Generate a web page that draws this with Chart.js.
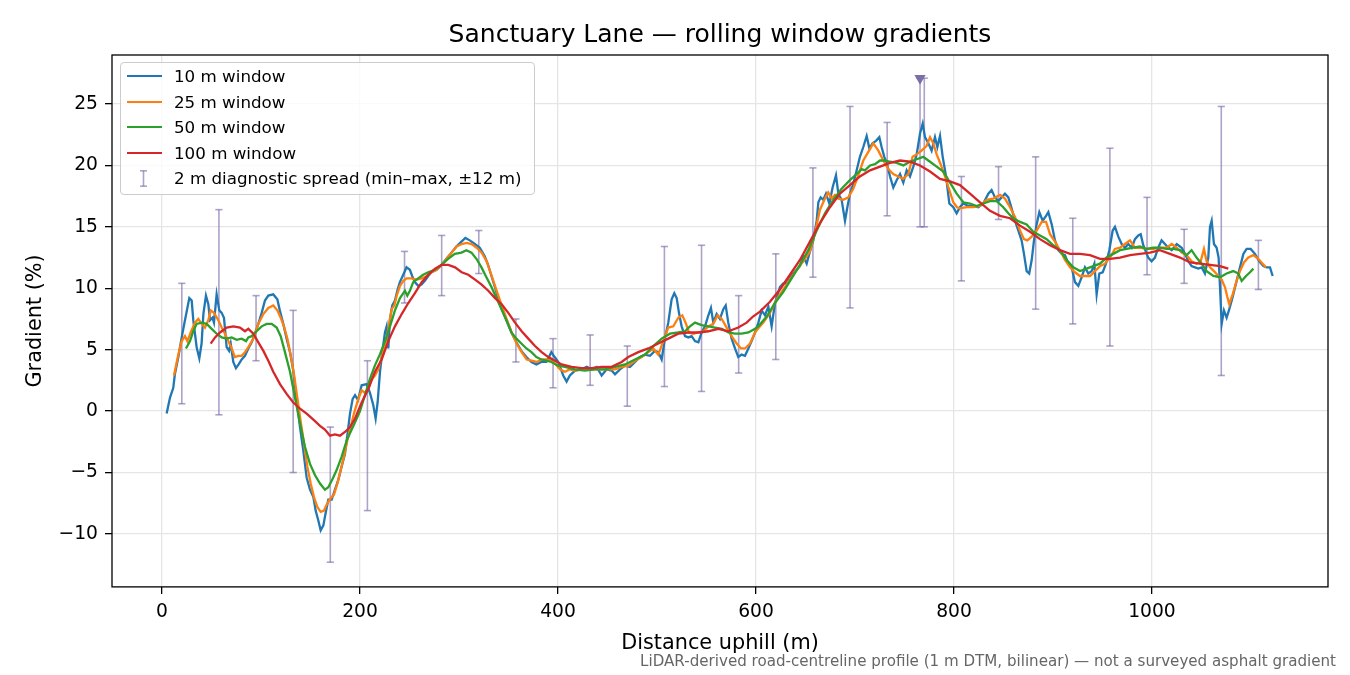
<!DOCTYPE html>
<html>
<head>
<meta charset="utf-8">
<script src="https://cdn.jsdelivr.net/npm/chart.js@4.4.1/dist/chart.umd.min.js"></script>
<style>
html,body{margin:0;padding:0;background:#fff;}
#wrap{position:relative;width:1350px;height:675px;font-family:"DejaVu Sans",sans-serif;}
#legend{position:absolute;left:120px;top:62px;width:413px;height:131px;border:1px solid #cccccc;border-radius:4px;background:rgba(255,255,255,0.8);}
.lg-line{position:absolute;left:6px;width:35px;height:2.4px;}
.lg-text{position:absolute;left:53px;height:20px;line-height:20px;font-size:16.7px;color:#000;white-space:nowrap;}
.lg-err{position:absolute;left:19px;width:7px;height:17px;}
</style>
</head>
<body>
<div id="wrap">
<canvas id="c" width="1350" height="675"></canvas>
<div id="legend"></div>
</div>
<script>
// ---------- data ----------
const chartTitle = 'Sanctuary Lane \u2014 rolling window gradients';
const xTitle = 'Distance uphill (m)';
const yTitle = 'Gradient (%)';
const caption = 'LiDAR-derived road-centreline profile (1 m DTM, bilinear) \u2014 not a surveyed asphalt gradient';
const xTicks = [0, 200, 400, 600, 800, 1000];
const yTicks = [-10, -5, 0, 5, 10, 15, 20, 25];

const seriesLabels = ['10 m window', '25 m window', '50 m window', '100 m window'];
const errLabel = '2 m diagnostic spread (min\u2013max, \u00b112 m)';

// [distance m, gradient %]
const win10 = [[4.7,-0.2],[8.1,1.1],[11.4,1.9],[13,3.0],[16.5,4.4],[19.9,6.0],[23.2,7.4],[27.6,9.2],[30,9.0],[31.6,7.4],[35,5.2],[37.7,4.3],[40,5.5],[41.8,7.9],[44.4,9.4],[46.8,8.7],[48.5,7.4],[51,7.6],[52.5,7.2],[55.2,9.5],[57.9,8.2],[60.3,8.0],[62.6,7.6],[65.3,5.2],[67.7,4.9],[69.4,5.5],[72,4.0],[74.7,3.5],[77.4,3.8],[80.5,4.2],[83.8,4.5],[87.2,5.1],[90.6,5.6],[93.9,6.3],[97.3,7.1],[100.7,8.0],[104,9.0],[107.4,9.4],[112.4,9.5],[116.5,9.1],[119,8.2],[122.5,7.1],[125.9,5.9],[129.3,4.8],[132.6,3.3],[136,0.9],[139.4,-1.3],[142.7,-3.2],[146.1,-5.4],[149.5,-6.4],[152.9,-7.0],[155.2,-8.1],[157.9,-8.9],[160.3,-9.7],[163,-9.3],[165.3,-8.3],[168,-7.2],[171.4,-7.2],[174.7,-6.4],[178.1,-5.6],[181.5,-4.5],[184.8,-3.5],[187.5,-1.8],[189.9,-0.2],[192.6,1.0],[195,1.3],[198,0.9],[201.7,2.1],[206.7,2.2],[210,1.5],[213.4,0.5],[215.8,-0.6],[217.8,0.7],[220.2,3.2],[222.5,4.8],[225.2,6.4],[226.9,6.9],[228.6,5.1],[230.3,7.5],[232.6,8.6],[235.3,9.0],[238,9.9],[240.3,10.5],[243.7,11.1],[247,11.7],[250.4,11.5],[252.7,11.0],[255.4,10.5],[258.8,10.2],[262.1,10.3],[265.5,10.6],[268.9,11.0],[272.2,11.3],[277.3,11.5],[282.3,11.9],[287.3,12.4],[292.4,12.9],[297.4,13.4],[302.5,13.8],[306.5,14.1],[310.9,13.9],[316,13.6],[321,13.3],[326,12.6],[329.4,11.9],[332.8,11.0],[336.2,10.1],[339.5,9.2],[342.9,8.4],[347.9,7.4],[353,6.4],[358,5.6],[363,4.9],[368.1,4.4],[373.2,4.0],[378.2,3.8],[383.2,4.0],[388.3,4.0],[393.3,4.8],[396.6,4.4],[400.3,4.0],[405.3,2.9],[408.7,2.4],[412,2.9],[417.2,3.3],[423.9,3.4],[429,3.6],[434,3.4],[439.1,3.6],[444.1,2.9],[449.2,3.4],[454.2,3.3],[457.6,3.0],[462.6,3.4],[467.7,3.7],[472.7,3.6],[477.8,4.0],[482.8,4.4],[487.9,4.6],[492.9,4.5],[497.9,4.9],[501.3,4.8],[504.7,4.2],[508,5.9],[511.4,7.2],[514.8,9.1],[517.5,9.6],[519.9,9.2],[522.2,8.0],[524.9,6.9],[528.3,6.1],[531.6,6.0],[535,6.1],[538.4,5.7],[541.8,5.6],[545.1,6.4],[548.5,6.9],[551.9,7.8],[554.5,8.4],[556.9,7.2],[560.3,7.9],[563.6,7.5],[567,8.3],[569.4,8.6],[572,7.2],[575.4,5.9],[578.8,5.1],[582.1,4.4],[585.5,4.6],[588.9,4.5],[592.3,5.1],[595.6,5.7],[599,6.4],[602.4,7.2],[605.7,8.2],[609.1,7.8],[612.5,8.5],[615.8,6.9],[619.2,8.8],[624.2,10.1],[627.6,10.4],[631,10.4],[634.3,10.8],[637.7,11.2],[641.1,11.5],[644.4,11.8],[647.8,12.6],[651.2,12.0],[654.5,13.0],[657.9,13.9],[661.3,15.5],[663,17.0],[665.3,17.4],[668,17.2],[670.7,17.7],[674.1,16.9],[677.4,18.2],[680.8,19.2],[683.2,17.7],[686.5,17.2],[689.9,15.5],[692.3,16.6],[694.9,17.7],[698.3,18.5],[701.7,19.6],[705,20.7],[708.4,21.5],[711.8,22.4],[714.5,21.4],[717.8,21.8],[721.2,22.0],[724.6,22.3],[726.9,21.5],[729.6,20.7],[732.7,20.0],[735.4,19.1],[738.7,18.2],[742.1,18.8],[745.5,19.3],[748.8,18.6],[752.2,19.6],[755.6,19.1],[758.9,19.9],[762.3,20.9],[765.7,22.6],[768.4,23.4],[770.7,22.3],[774.1,21.8],[777.4,21.2],[780.8,22.3],[783.2,21.5],[785.9,22.4],[788.6,20.7],[792,19.1],[795.3,16.9],[799.3,16.6],[802.7,16.1],[806,16.6],[809.4,16.9],[814.4,16.7],[819.5,16.7],[824.6,16.6],[829.6,16.9],[834.7,17.7],[838,18.0],[841.4,17.4],[844.8,17.1],[848.1,17.4],[851.5,17.7],[854.9,17.4],[858.2,16.5],[861.6,15.5],[865,14.7],[868.3,13.9],[870.7,12.8],[873.4,11.4],[876,11.2],[878.5,12.3],[880.8,13.9],[883.5,15.2],[886.2,16.2],[889.6,15.5],[893,15.9],[895.3,16.2],[898.7,15.2],[902,13.9],[905.4,13.1],[908.8,12.8],[912.1,12.7],[915.5,12.0],[918.9,11.7],[922.2,10.5],[925.6,10.2],[929,10.9],[932.3,11.7],[935.7,11.2],[939.1,11.4],[941.8,12.0],[944.1,9.5],[946.8,11.2],[950.2,11.3],[953.5,12.0],[956.9,13.1],[960.3,14.7],[962.6,15.0],[966,14.2],[969.4,13.6],[972.7,13.3],[976.1,13.6],[979.5,13.3],[982.8,14.0],[986.2,14.3],[988.6,14.4],[991.2,13.5],[996.2,12.5],[999.6,12.2],[1003,12.5],[1006.3,13.3],[1009.7,13.9],[1013.1,13.6],[1016.5,13.3],[1019.9,13.1],[1025,13.6],[1030,13.3],[1033.3,12.8],[1036.7,12.2],[1040,11.8],[1043.4,11.7],[1046.8,11.6],[1050.2,11.7],[1053.5,11.2],[1056.9,12.5],[1058.6,15.0],[1060.3,15.5],[1062.6,13.6],[1065.3,13.3],[1067.3,12.5],[1068.7,10.1],[1070.4,7.1],[1072.7,8.2],[1075.4,7.6],[1078.1,8.3],[1081.5,9.3],[1085.5,10.6],[1088.9,11.7],[1092.3,12.8],[1095.6,13.2],[1099.7,13.2],[1104,12.8],[1108.4,12.2],[1112.5,11.8],[1115.8,11.7],[1119.2,11.7],[1121.9,11.0]];

const win25 = [[12.1,2.9],[16.5,4.6],[19.9,5.7],[23.2,6.1],[25.6,5.7],[29,6.4],[33.3,7.2],[36.7,7.5],[40,7.1],[43.4,6.8],[46.8,7.4],[49.2,8.2],[52.5,8.0],[56.9,7.4],[60.3,6.8],[63.6,6.3],[67,5.7],[70.4,5.1],[73.7,4.4],[77.1,4.5],[80.5,4.5],[83.8,4.8],[87.2,5.2],[92.3,5.9],[97.3,7.1],[102.4,7.9],[107.4,8.4],[112.4,8.6],[116.5,8.2],[119.9,7.6],[123.2,6.9],[126.6,5.9],[129.9,4.6],[133.3,3.0],[136.7,1.1],[140,-0.8],[143.4,-2.6],[146.8,-4.5],[150.2,-5.9],[153.5,-7.0],[156.9,-7.8],[160.3,-8.2],[163.6,-8.1],[167,-7.5],[170.4,-7.1],[173.7,-6.8],[177.1,-5.9],[180.5,-4.8],[183.8,-3.7],[187.2,-2.4],[190.6,-1.3],[193.9,-0.2],[198.3,1.0],[201.7,1.7],[205,1.5],[208.4,1.8],[211.8,2.6],[215.1,2.9],[218.5,3.4],[221.9,4.4],[225.3,5.3],[228.6,6.7],[232,8.3],[234.7,8.6],[237.1,9.4],[240.4,10.2],[243.8,10.6],[247.1,10.8],[252.2,10.8],[257.2,10.7],[262.3,10.8],[267.3,11.0],[272.4,11.3],[277.4,11.5],[282.5,11.9],[287.5,12.4],[292.6,12.9],[297.6,13.4],[302.7,13.6],[307.7,13.7],[312.8,13.6],[317.8,13.3],[322.9,12.9],[327.9,12.2],[333,11.0],[338,9.8],[343.1,8.6],[348.1,7.5],[353.2,6.4],[358.2,5.5],[363.3,4.8],[368.4,4.2],[373.4,4.1],[378.5,4.0],[383.5,4.2],[388.6,4.2],[393.6,4.1],[398,3.8],[402,3.4],[407,3.2],[412,3.4],[417,3.3],[424,3.4],[430.6,3.4],[437.4,3.4],[444,3.4],[450.8,3.4],[457.6,3.4],[464.3,3.6],[471,3.7],[477.8,4.1],[484.5,4.4],[491.3,4.8],[496.3,5.1],[501.3,4.6],[506.4,5.7],[511.4,6.8],[516.5,6.9],[521.5,7.6],[525.6,7.8],[528.9,7.2],[532.3,6.4],[536.7,6.3],[541.8,6.4],[546.8,6.5],[551.9,6.9],[556.9,7.1],[561.3,7.8],[565.4,7.5],[570.4,6.8],[575.4,6.1],[580.5,5.5],[584.9,5.1],[588.9,5.1],[594,5.5],[599,6.4],[603,6.8],[607.4,7.2],[614.1,8.0],[620.9,9.1],[627.6,9.9],[634.3,10.7],[641.1,11.5],[647.8,12.2],[654.5,13.0],[659.6,14.5],[664.6,16.4],[669.7,17.3],[673,17.8],[676.4,17.3],[679.8,17.6],[683.2,17.3],[688.2,17.2],[693.3,17.4],[698.3,18.1],[703.4,19.2],[708.4,20.4],[713.5,21.1],[718.5,21.8],[723.6,21.2],[728.6,20.4],[733.7,19.7],[738.7,19.3],[743.8,19.1],[748.8,18.9],[753.9,19.3],[758.2,20.7],[762.3,20.9],[767.3,21.2],[772.4,21.6],[775.8,22.3],[779.1,21.8],[782.5,20.9],[786.5,20.1],[790.9,19.1],[795.3,18.0],[799.3,17.0],[803,16.6],[806,16.5],[812.8,16.6],[819.5,16.6],[826.3,16.7],[833,17.2],[839.7,17.3],[846.5,17.6],[851.5,17.3],[856.6,16.6],[861.6,15.8],[866.7,14.7],[870.7,14.0],[874.1,13.9],[878.5,14.2],[883.5,14.7],[888.6,15.4],[893,15.4],[897,14.4],[902,13.8],[907.1,13.1],[912.1,12.3],[917.2,11.7],[922.2,11.3],[927.3,11.0],[932.3,11.0],[937.4,11.0],[942.4,11.4],[947.5,11.8],[952.5,12.0],[957.6,12.5],[962.6,13.2],[967.7,13.3],[972.7,13.6],[977.8,13.9],[982.8,13.3],[987.9,13.3],[994.6,13.2],[1001.3,13.2],[1008,13.3],[1014.8,13.3],[1019.9,13.6],[1025,13.3],[1030,12.9],[1035,12.7],[1040,12.2],[1045,12.0],[1049.2,12.2],[1052.5,13.2],[1055.2,12.2],[1058.6,11.7],[1062.6,11.4],[1067,11.0],[1070.4,10.7],[1073.7,10.1],[1076.1,9.3],[1078.1,8.7],[1081.5,9.5],[1085.5,10.6],[1088.9,11.4],[1092.9,12.1],[1097.3,12.5],[1102.4,12.7],[1107.4,12.4],[1111.8,12.0],[1115.2,11.7]];

const win50 = [[24.2,5.1],[28.3,5.7],[31.6,6.5],[35,7.1],[40,7.2],[45.1,7.1],[50.2,6.7],[55.2,6.3],[60.3,6.0],[65.3,5.9],[70.4,6.0],[75.4,5.8],[80.5,5.9],[84.9,5.7],[87.2,6.0],[90.6,6.1],[95.6,6.5],[100.7,6.9],[105.7,7.1],[110.8,7.1],[115.8,6.8],[119.9,6.1],[124.2,4.8],[129.3,3.2],[134.3,1.1],[139.4,-1.0],[144.4,-2.9],[149.5,-4.3],[154.5,-5.2],[159.6,-5.9],[164.6,-6.4],[168,-6.2],[172.4,-5.5],[176.4,-4.8],[181.5,-3.7],[186.5,-2.4],[191.6,-1.5],[195,-0.9],[200,0.0],[205,1.3],[210,2.6],[215,3.7],[220,4.6],[225.3,5.7],[230.3,6.9],[235.3,8.2],[240.4,9.2],[245.4,9.8],[247.8,9.4],[250.4,9.8],[253.8,10.5],[258.8,10.8],[263.8,11.1],[268.9,11.3],[275.6,11.5],[282.3,11.9],[289,12.4],[295.8,12.8],[302.5,12.9],[307.5,13.1],[312.6,12.9],[317.6,12.4],[322.7,11.7],[327.7,10.9],[332.8,10.1],[337.8,9.2],[342.9,8.3],[347.9,7.4],[353,6.4],[358,5.9],[363,5.5],[368.1,5.1],[373.2,4.8],[378.2,4.4],[383.2,4.2],[388.3,4.1],[393.3,4.0],[400,3.7],[407,3.6],[417,3.4],[427,3.3],[437.4,3.4],[447.5,3.4],[457.6,3.6],[467.7,3.8],[477.8,4.2],[487.9,4.6],[496.3,5.3],[504.7,5.9],[513.1,6.3],[521.5,6.4],[528.3,6.5],[533.3,6.9],[538.4,7.2],[545.1,7.0],[551.9,6.9],[558.6,6.8],[565.4,6.7],[572.1,6.4],[578.8,6.3],[585.5,6.3],[592.3,6.4],[599,6.7],[602.4,6.9],[610.8,7.7],[619.2,8.8],[627.6,9.7],[636,10.8],[644.4,11.9],[652.9,13.1],[661.3,14.7],[669.7,16.1],[678.1,17.2],[686.5,18.1],[694.9,18.8],[701.7,19.3],[706.7,19.7],[710.1,19.6],[715.2,20.0],[720.2,20.1],[725.3,20.4],[730.3,20.4],[735.4,20.3],[742.1,20.2],[748.8,20.0],[755.6,20.3],[762.3,20.5],[769,20.7],[775.8,20.3],[782.5,19.9],[789.2,19.5],[796,18.6],[802.7,17.7],[809.4,17.0],[816.2,16.9],[822.9,16.7],[829.6,16.9],[836.4,17.1],[843.1,17.1],[849.8,16.6],[854.9,16.1],[859.9,15.7],[866.7,15.4],[873.4,15.2],[880.1,14.6],[886.9,14.3],[893.6,14.0],[900.3,13.5],[907.1,13.1],[913.8,12.3],[920.5,11.7],[927.3,11.4],[934,11.6],[940.7,11.8],[947.5,12.0],[954.2,12.5],[960.9,12.8],[967.7,13.1],[974.4,13.2],[981.1,13.3],[987.9,13.4],[994.6,13.2],[1001.3,13.3],[1008,13.3],[1014.8,13.2],[1021.5,13.2],[1028.3,13.1],[1035,12.7],[1040,13.1],[1045,12.5],[1050.2,12.0],[1055.2,11.4],[1062,11.0],[1068.7,10.9],[1075.4,11.2],[1082.1,11.4],[1087.2,11.2],[1090.6,10.6],[1095,11.0],[1099,11.3],[1102.4,11.6]];

const win100 = [[49.2,5.5],[53.6,6.0],[58.6,6.4],[65.3,6.8],[72,6.9],[78.8,6.8],[83.8,6.5],[87.2,6.7],[92.3,6.3],[97.3,5.6],[102.4,4.9],[107.4,4.1],[112.4,3.2],[119.2,2.2],[125.9,1.4],[132.6,0.7],[139.4,0.2],[146.1,-0.2],[152.9,-0.7],[159.6,-1.2],[164.6,-1.5],[169.7,-2.0],[174.7,-1.9],[179.8,-2.0],[184.8,-1.7],[189.9,-1.3],[195,-0.6],[201.7,0.7],[208.4,1.8],[215.1,3.2],[221.9,4.2],[228.6,5.7],[235.3,6.9],[242.1,7.9],[248.8,8.8],[255.5,9.6],[262.3,10.5],[269,11.1],[275.8,11.6],[282.5,11.9],[289.2,11.9],[296,11.7],[302.7,11.3],[309.4,11.1],[316.2,10.7],[322.9,10.3],[329.6,9.8],[336.4,9.2],[343.1,8.7],[349.8,8.0],[356.6,7.2],[363.3,6.5],[370,5.9],[376.8,5.3],[383.5,4.8],[390.2,4.4],[397,4.1],[403.7,3.8],[413.8,3.6],[423.9,3.5],[434,3.5],[444.1,3.6],[454.2,3.6],[464.3,4.0],[471,4.4],[481.1,4.8],[491.3,5.1],[501.3,5.5],[511.4,5.9],[521.5,6.3],[531.6,6.4],[541.8,6.4],[551.9,6.5],[562,6.7],[572.1,6.5],[582.1,6.8],[590.6,7.2],[597,7.7],[604,8.1],[614.1,8.9],[624.2,9.9],[634.3,11.1],[644.4,12.3],[654.5,13.8],[664.6,15.3],[674.7,16.6],[684.8,17.7],[694.9,18.4],[705,19.1],[715.2,19.6],[725.3,19.9],[735.4,20.2],[745.5,20.4],[755.6,20.3],[765.7,20.0],[775.8,19.5],[785.9,18.9],[796,18.7],[806,18.4],[816.2,17.7],[826.3,17.0],[836.4,16.3],[846.5,15.9],[856.6,15.7],[866.7,15.1],[876.8,14.6],[886.9,14.0],[897,13.5],[907.1,13.1],[917.2,12.8],[927.3,12.8],[937.4,12.7],[947.5,12.4],[957.6,12.4],[967.7,12.5],[977.8,12.7],[987.9,12.8],[998,12.9],[1008,13.1],[1018.2,12.8],[1028.3,12.5],[1038.4,12.1],[1048.5,12.0],[1058.6,11.9],[1068.7,11.8],[1077.1,11.6]];

// 2 m diagnostic spread: position, min, max
const errDist = [20,57.5,95,132.5,170,207.5,245,282.5,320,357.5,395,432.5,470,507.5,545,582.5,620,657.5,695,732.5,765.7,770,807.5,845,882.5,920,957.5,995,1032.5,1070,1107.5];
const errMin  = [0.6,-0.3,4.1,-5.0,-12.3,-8.1,8.8,9.4,11.2,4.0,1.9,2.1,0.4,2.0,1.6,3.1,4.2,10.9,8.4,15.9,15.0,15.0,10.6,15.6,8.3,7.1,5.3,11.1,10.4,2.9,9.9];
const errMax  = [10.4,16.4,9.4,8.2,-1.3,4.1,13.0,14.3,14.7,7.5,5.9,6.2,5.3,13.4,13.5,9.4,12.8,19.8,24.8,23.5,27.1,27.1,19.1,19.9,20.7,15.7,21.4,17.4,14.8,24.8,13.9];
// steepest 2 m marker
const steepDist = [765.7];
const steepGrad = [27.1];

// ---------- styling ----------
const colors = ['#1f77b4', '#ff7f0e', '#2ca02c', '#d62728'];
const errColor = 'rgba(118,100,162,0.6)';
const steepColor = '#7d6ea6';
const FONT = "'DejaVu Sans', sans-serif";
Chart.defaults.font.family = FONT;
Chart.defaults.color = '#000';

const toXY = arr => arr.map(p => ({x: p[0], y: p[1]}));
const seriesData = [win10, win25, win50, win100];

const errLinePts = [];
const errCapPts = [];
errDist.forEach((d, i) => {
  errLinePts.push({x: d, y: errMin[i]}, {x: d, y: errMax[i]}, {x: d, y: null});
  errCapPts.push({x: d, y: errMin[i]}, {x: d, y: errMax[i]});
});

const datasets = seriesData.map((s, i) => ({
  type: 'line', label: seriesLabels[i], data: toXY(s),
  borderColor: colors[i], backgroundColor: colors[i], borderWidth: 2.3,
  pointRadius: 0, tension: 0, fill: false, order: 4 - i
}));
datasets.push({
  type: 'line', label: errLabel, data: errLinePts, borderColor: errColor,
  borderWidth: 1.6, pointRadius: 0, spanGaps: false, fill: false, order: 20
});
datasets.push({
  type: 'scatter', label: 'caps', data: errCapPts, pointStyle: 'line',
  pointRadius: 3.6, pointBorderColor: errColor, pointBorderWidth: 1.6, borderColor: errColor, order: 19
});
datasets.push({
  type: 'scatter', label: 'steepest', data: steepDist.map((d, i) => ({x: d, y: steepGrad[i]})),
  pointStyle: 'triangle', rotation: 180, pointRadius: 6.5,
  backgroundColor: steepColor, borderColor: steepColor, pointBorderWidth: 0, order: 0
});

const framePlugin = {
  id: 'frame',
  afterDraw(chart) {
    const a = chart.chartArea, ctx = chart.ctx;
    ctx.save();
    ctx.strokeStyle = '#000';
    ctx.lineWidth = 1.3;
    ctx.strokeRect(a.left, a.top, a.right - a.left, a.bottom - a.top);
    ctx.restore();
  }
};

const tickFont = {family: FONT, size: 18.7};
new Chart(document.getElementById('c'), {
  type: 'line',
  data: {datasets},
  options: {
    responsive: false, animation: false, devicePixelRatio: 1, events: [],
    layout: {padding: {left: 0, right: 14, top: 0, bottom: 0}},
    plugins: {
      legend: {display: false},
      tooltip: {enabled: false},
      title: {display: true, text: chartTitle, fullSize: false, color: '#000',
        font: {family: FONT, size: 25, weight: 'normal'}, padding: {top: 20, bottom: 5}},
      subtitle: {display: true, text: caption, position: 'bottom', align: 'end', color: '#666',
        font: {family: FONT, size: 15.1, weight: 'normal'}, padding: {top: 0, bottom: 4}}
    },
    scales: {
      x: {
        type: 'linear', min: -50.5, max: 1177.8,
        afterBuildTicks: s => { s.ticks = xTicks.map(v => ({value: v})); },
        afterFit: s => { s.height = 66; },
        ticks: {font: tickFont, color: '#000', padding: 7, maxRotation: 0, autoSkip: false,
          callback: v => String(v)},
        grid: {color: '#e5e5e5', lineWidth: 1.3, tickColor: '#000', tickLength: 7, tickWidth: 1.3, drawTicks: true},
        border: {display: false},
        title: {display: true, text: xTitle, color: '#000', font: {family: FONT, size: 20.8, lineHeight: 0.92}, padding: {top: 0, bottom: 0}}
      },
      y: {
        type: 'linear', min: -14.31, max: 28.99,
        afterBuildTicks: s => { s.ticks = yTicks.map(v => ({value: v})); },
        afterFit: s => { s.width = 112; },
        ticks: {font: tickFont, color: '#000', padding: 7, autoSkip: false,
          callback: v => (v < 0 ? '\u2212' + Math.abs(v) : String(v))},
        grid: {color: '#e5e5e5', lineWidth: 1.3, tickColor: '#000', tickLength: 7, tickWidth: 1.3, drawTicks: true},
        border: {display: false},
        title: {display: true, text: yTitle, color: '#000', font: {family: FONT, size: 20.8}, padding: {top: 23, bottom: 0}}
      },
      y2: {
        type: 'linear', position: 'right', min: 0, max: 1, display: true,
        afterFit: s => { s.width = 8; },
        ticks: {display: false}, grid: {display: false, drawTicks: false}, border: {display: false}
      }
    }
  },
  plugins: [framePlugin]
});

// ---------- legend (HTML text) ----------
const lg = document.getElementById('legend');
const rowCenters = [13, 39, 64, 90, 115];
seriesLabels.forEach((lab, i) => {
  const ln = document.createElement('div');
  ln.className = 'lg-line';
  ln.style.top = (rowCenters[i] - 1.2) + 'px';
  ln.style.background = colors[i];
  lg.appendChild(ln);
  const tx = document.createElement('div');
  tx.className = 'lg-text';
  tx.style.top = (rowCenters[i] - 10) + 'px';
  tx.textContent = lab;
  lg.appendChild(tx);
});
const ic = document.createElement('div');
ic.className = 'lg-err';
ic.style.top = (rowCenters[4] - 8.5) + 'px';
ic.innerHTML = '<svg width="7" height="17"><line x1="3.5" y1="0.8" x2="3.5" y2="16.2" stroke="' + errColor + '" stroke-width="1.6"/><line x1="0" y1="0.8" x2="7" y2="0.8" stroke="' + errColor + '" stroke-width="1.6"/><line x1="0" y1="16.2" x2="7" y2="16.2" stroke="' + errColor + '" stroke-width="1.6"/></svg>';
lg.appendChild(ic);
const et = document.createElement('div');
et.className = 'lg-text';
et.style.top = (rowCenters[4] - 10) + 'px';
et.textContent = errLabel;
lg.appendChild(et);
</script>
</body>
</html>
